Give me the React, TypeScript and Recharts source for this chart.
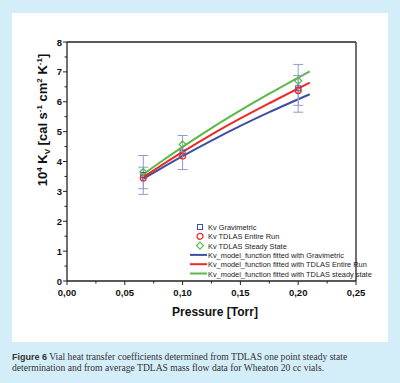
import React from 'react';
import {
  ComposedChart,
  Line,
  Scatter,
  ErrorBar,
  XAxis,
  YAxis,
  ReferenceLine,
  Legend,
} from 'recharts';

// measured pressures (Torr)
const pressures = [0.066, 0.1, 0.2];
const kvGravimetric = [3.55, 4.3, 6.45];
const kvGravimetricErr = [0.65, 0.57, 0.8];
const kvTdlasEntire = [3.45, 4.18, 6.38];
const kvTdlasEntireErr = [0.36, 0.0, 0.5];
const kvTdlasSteady = [3.65, 4.57, 6.7];

// fitted model curves
const fitPressures = [0.065, 0.08, 0.1, 0.125, 0.15, 0.175, 0.21];
const fitGravimetric = [3.4, 3.74, 4.18, 4.7, 5.19, 5.65, 6.25];
const fitEntire = [3.45, 3.83, 4.32, 4.9, 5.44, 5.95, 6.64];
const fitSteady = [3.55, 3.96, 4.49, 5.12, 5.71, 6.27, 7.02];

const xTicks = [0, 0.025, 0.05, 0.075, 0.1, 0.125, 0.15, 0.175, 0.2, 0.225, 0.25];
const yTicks = [0, 0.5, 1, 1.5, 2, 2.5, 3, 3.5, 4, 4.5, 5, 5.5, 6, 6.5, 7, 7.5, 8];

const legendLabels = [
  'Kv Gravimetric',
  'Kv TDLAS Entire Run',
  'Kv TDLAS Steady State',
  'Kv_model_function fitted with Gravimetric',
  'Kv_model_function fitted with TDLAS Entire Run',
  'Kv_model_function fitted with TDLAS steady state',
];

const BLUE = '#3b50a3';
const RED = '#ec2a24';
const GREEN = '#5bb846';
const ERR = '#8e9bd2';
const AXIS = '#222';
const FONT = 'Arial, "Liberation Sans", sans-serif';

const gravData = pressures.map((p, i) => ({ p, kv: kvGravimetric[i], err: kvGravimetricErr[i] }));
const entireData = pressures.map((p, i) => ({ p, kv: kvTdlasEntire[i], err: kvTdlasEntireErr[i] }));
const steadyData = pressures.map((p, i) => ({ p, kv: kvTdlasSteady[i] }));
const fitGravData = fitPressures.map((p, i) => ({ p, kv: fitGravimetric[i] }));
const fitEntireData = fitPressures.map((p, i) => ({ p, kv: fitEntire[i] }));
const fitSteadyData = fitPressures.map((p, i) => ({ p, kv: fitSteady[i] }));

const isMajor = (v: number, step: number) => Math.abs(v / step - Math.round(v / step)) < 1e-6;

const XTick = (props: any) => {
  const { x, y, payload } = props;
  const major = isMajor(payload.value, 0.05);
  return (
    <g>
      <line x1={x} x2={x} y1={y} y2={y + (major ? 4 : 2.5)} stroke={AXIS} />
      {major && (
        <text x={x} y={y + 15} textAnchor="middle" fontSize={9.5} fontWeight="bold" fill="#111" fontFamily={FONT}>
          {payload.value.toFixed(2).replace('.', ',')}
        </text>
      )}
    </g>
  );
};

const YTick = (props: any) => {
  const { x, y, payload } = props;
  const major = isMajor(payload.value, 1);
  return (
    <g>
      <line x1={x} x2={x - (major ? 4 : 2.5)} y1={y} y2={y} stroke={AXIS} />
      {major && (
        <text x={x - 5} y={y + 3.5} textAnchor="end" fontSize={9.5} fontWeight="bold" fill="#111" fontFamily={FONT}>
          {payload.value}
        </text>
      )}
    </g>
  );
};

const square = ({ cx, cy }: any) => (
  <rect x={cx - 2.5} y={cy - 2.5} width={5} height={5} fill="none" stroke={BLUE} strokeWidth={1} />
);
const circle = ({ cx, cy }: any) => <circle cx={cx} cy={cy} r={3} fill="none" stroke={RED} strokeWidth={1.2} />;
const diamond = ({ cx, cy }: any) => (
  <path d={`M${cx},${cy - 3.5}L${cx + 3.5},${cy}L${cx},${cy + 3.5}L${cx - 3.5},${cy}Z`} fill="none" stroke={GREEN} strokeWidth={1.2} />
);

const LegendBox = () => {
  const marks = [
    <rect x={197.5} y={-2.5} width={5} height={5} fill="none" stroke={BLUE} />,
    <circle cx={200} cy={0} r={3} fill="none" stroke={RED} strokeWidth={1.2} />,
    <path d="M200,-3.5L203.5,0L200,3.5L196.5,0Z" fill="none" stroke={GREEN} strokeWidth={1.2} />,
    <line x1={190} x2={207} y1={0} y2={0} stroke={BLUE} strokeWidth={2} />,
    <line x1={190} x2={207} y1={0} y2={0} stroke={RED} strokeWidth={2} />,
    <line x1={190} x2={207} y1={0} y2={0} stroke={GREEN} strokeWidth={2} />,
  ];
  return (
    <svg width={400} height={70} style={{ display: 'block' }}>
      {legendLabels.map((label, i) => (
        <g key={label} transform={`translate(0, ${10 + i * 9.3})`}>
          {marks[i]}
          <text x={208} y={3} fontSize={7.4} fill="#222" fontFamily={FONT}>
            {label}
          </text>
        </g>
      ))}
    </svg>
  );
};

export default function App() {
  return (
    <div style={{ position: 'absolute', left: 0, top: 0, width: 400, height: 383, background: '#d4eef9' }}>
      <div style={{ position: 'absolute', left: 12, top: 13, width: 376, height: 329, background: '#fff' }} />
      <div style={{ position: 'absolute', left: 0, top: 0 }}>
        <ComposedChart width={400} height={345} margin={{ top: 42, right: 44, left: 17, bottom: 34 }}>
          <XAxis
            dataKey="p"
            type="number"
            domain={[0, 0.25]}
            ticks={xTicks}
            interval={0}
            height={30}
            tickSize={0}
            tickMargin={0}
            tickLine={false}
            tick={<XTick />}
            axisLine={{ stroke: AXIS, strokeWidth: 1.3 }}
            allowDataOverflow
          />
          <YAxis
            type="number"
            domain={[0, 8]}
            ticks={yTicks}
            interval={0}
            width={50}
            tickSize={0}
            tickMargin={0}
            tickLine={false}
            tick={<YTick />}
            axisLine={{ stroke: AXIS, strokeWidth: 1.3 }}
            allowDataOverflow
          />
          <ReferenceLine y={8} stroke={AXIS} strokeWidth={1.3} />
          <ReferenceLine x={0.25} stroke={AXIS} strokeWidth={1.3} />
          <Legend
            layout="vertical"
            align="center"
            verticalAlign="middle"
            content={() => <LegendBox />}
            wrapperStyle={{ left: 0, top: 217, width: 400 }}
          />
          <Line data={fitGravData} dataKey="kv" type="monotone" stroke={BLUE} strokeWidth={2} dot={false} isAnimationActive={false} />
          <Line data={fitEntireData} dataKey="kv" type="monotone" stroke={RED} strokeWidth={2} dot={false} isAnimationActive={false} />
          <Line data={fitSteadyData} dataKey="kv" type="monotone" stroke={GREEN} strokeWidth={2} dot={false} isAnimationActive={false} />
          <Scatter data={gravData} dataKey="kv" shape={square} isAnimationActive={false}>
            <ErrorBar dataKey="err" direction="y" width={5} stroke={ERR} strokeWidth={1} />
          </Scatter>
          <Scatter data={entireData} dataKey="kv" shape={circle} isAnimationActive={false}>
            <ErrorBar dataKey="err" direction="y" width={5} stroke={ERR} strokeWidth={1} />
          </Scatter>
          <Scatter data={steadyData} dataKey="kv" shape={diamond} isAnimationActive={false} />
        </ComposedChart>
      </div>
      <svg width={400} height={345} style={{ position: 'absolute', left: 0, top: 0, pointerEvents: 'none' }}>
        <text
          transform="translate(47, 120) rotate(-90)"
          textAnchor="middle"
          fontSize={13}
          fontWeight="bold"
          fill="#111"
          fontFamily={FONT}
        >
          10<tspan fontSize={8} dy={-5}>4</tspan>
          <tspan dy={5}> K</tspan>
          <tspan fontSize={8} dy={3}>V</tspan>
          <tspan dy={-3}> [cal s</tspan>
          <tspan fontSize={8} dy={-5}>-1</tspan>
          <tspan dy={5}> cm</tspan>
          <tspan fontSize={8} dy={-5}>2</tspan>
          <tspan dy={5}> K</tspan>
          <tspan fontSize={8} dy={-5}>-1</tspan>
          <tspan dy={5}>]</tspan>
        </text>
        <text x={215} y={316} textAnchor="middle" fontSize={12} fontWeight="bold" fill="#111" fontFamily={FONT}>
          Pressure [Torr]
        </text>
      </svg>
      <div
        style={{
          position: 'absolute',
          left: 12,
          top: 352,
          width: 380,
          fontFamily: '"Liberation Serif", "Times New Roman", serif',
          fontSize: 9.6,
          lineHeight: '9.8px',
          color: '#333',
        }}
      >
        <span style={{ fontFamily: FONT, fontWeight: 'bold', fontSize: 9 }}>Figure 6</span> Vial heat transfer
        coefficients determined from TDLAS one point steady state
        <br />
        determination and from average TDLAS mass flow data for Wheaton 20 cc vials.
      </div>
    </div>
  );
}
